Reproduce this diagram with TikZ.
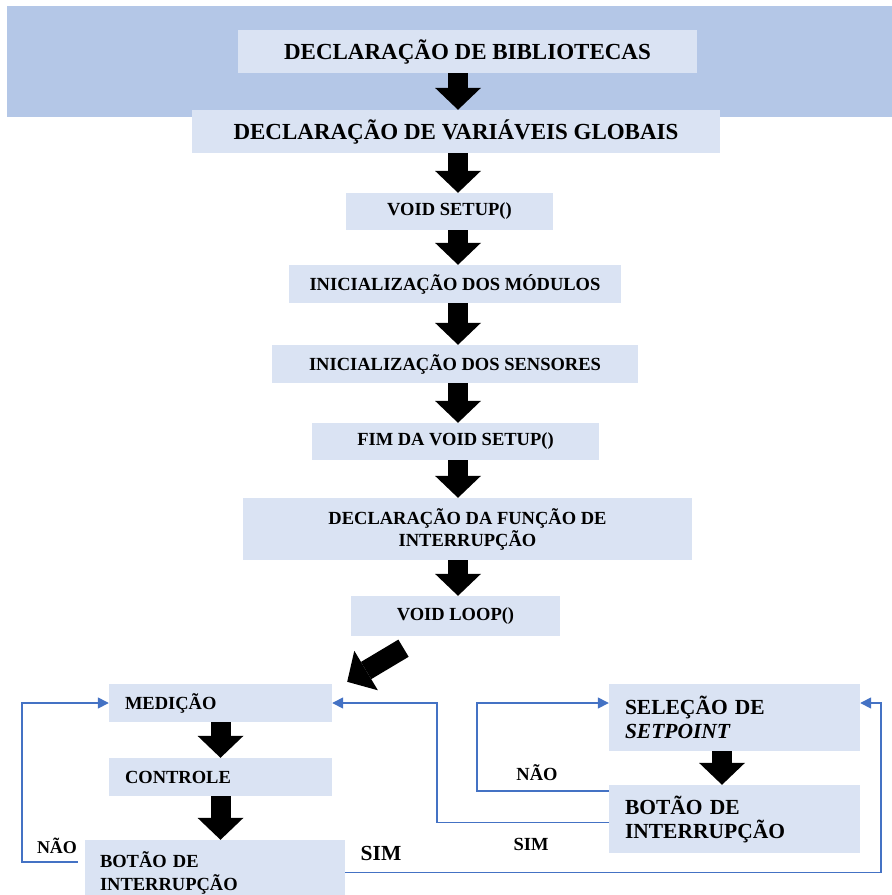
\documentclass[tikz,border=0pt]{standalone}
\usepackage{fontspec}
\setmainfont{Liberation Serif}
\usetikzlibrary{arrows.meta}
\definecolor{bandblue}{HTML}{B4C7E7}
\definecolor{boxblue}{HTML}{DAE3F3}
\definecolor{lineblue}{HTML}{4472C4}

\begin{document}
\begin{tikzpicture}[x=1pt,y=-1pt,
  stage/.style={fill=boxblue,inner sep=0pt,align=center,font=\bfseries\fontsize{18.5}{22}\selectfont},
  head/.style={stage,font=\bfseries\fontsize{23}{27}\selectfont},
  block/.style={fill=boxblue,inner xsep=16pt,inner ysep=0pt,align=left,font=\bfseries\fontsize{18.5}{23}\selectfont},
  bigblock/.style={block,font=\bfseries\fontsize{21.5}{24}\selectfont},
  bigarrow/.style={line width=20pt,-{Triangle[width=46pt,length=22pt,line width=0pt]}},
  flow/.style={draw=lineblue,line width=1.5pt,-{Triangle[width=11pt,length=11pt]}},
  lbl/.style={inner sep=0pt,font=\bfseries\fontsize{18}{20}\selectfont}]
\useasboundingbox (0,0) rectangle (892,895);
\fill[bandblue] (7,6) rectangle (892,117);

% setup part
\node[head,minimum width=459pt,minimum height=43pt] (libs) at (467.5,51.5) {DECLARAÇÃO DE BIBLIOTECAS};
\node[head,minimum width=528pt,minimum height=43pt] (globs) at (456,131.5) {DECLARAÇÃO DE VARIÁVEIS GLOBAIS};
\node[stage,minimum width=207pt,minimum height=37pt] (setup) at (449.5,211.5) {VOID SETUP()};
\node[stage,minimum width=332pt,minimum height=38pt] (mods) at (455,284) {INICIALIZAÇÃO DOS MÓDULOS};
\node[stage,minimum width=366pt,minimum height=38pt] (sens) at (455,364) {INICIALIZAÇÃO DOS SENSORES};
\node[stage,minimum width=287pt,minimum height=37pt] (endsetup) at (455.5,441.5) {FIM DA VOID SETUP()};
\node[stage,minimum width=449pt,minimum height=62pt] (isr) at (467.5,529) {DECLARAÇÃO DA FUNÇÃO DE\\INTERRUPÇÃO};
\node[stage,minimum width=209pt,minimum height=40pt] (loop) at (455.5,616) {VOID LOOP()};

% loop part
\node[block,text width=191pt,minimum height=38pt] (med) at (220.5,703) {MEDIÇÃO};
\node[block,text width=191pt,minimum height=38pt] (ctrl) at (220.5,777) {CONTROLE};
\node[block,inner xsep=15pt,text width=230pt,minimum height=65pt] (btnl) at (215,872.5) {BOTÃO DE\\INTERRUPÇÃO};
\node[bigblock,text width=219pt,minimum height=67pt] (sel) at (734.5,717.5) {SELEÇÃO DE\\\textit{SETPOINT}};
\node[bigblock,text width=219pt,minimum height=68pt] (btnr) at (734.5,819) {BOTÃO DE\\INTERRUPÇÃO};

\coordinate (spine) at (458,0);
\coordinate (rspine) at (722,0);
\path[bigarrow]
(libs.south -| spine) edge (globs.north -| spine)
(globs.south -| spine) edge (setup.north -| spine)
(setup.south -| spine) edge (mods.north -| spine)
(mods.south -| spine) edge (sens.north -| spine)
(sens.south -| spine) edge (endsetup.north -| spine)
(endsetup.south -| spine) edge (isr.north -| spine)
(isr.south -| spine) edge (loop.north -| spine)
([shift={(-52,12)}]loop.south) edge ([shift={(15,-2)}]med.north east)
(med.south) edge (ctrl.north)
(ctrl.south) edge (btnl.north -| med)
(sel.south -| rspine) edge (btnr.north -| rspine)
;

% decisions
\draw[flow] ([shift={(-7,-10.5)}]btnl.west) -- ++(-56,0) |- (med.west);
\draw[flow] (btnl.east) -- ++(536,0) |- (sel.east |- med.east);
\draw[flow] ([shift={(0,3.5)}]btnr.west) -- ++(-172,0) |- (med.east);
\draw[flow] ([shift={(0,-28)}]btnr.west) -- ++(-132,0) |- (sel.west |- med.west);

\node[lbl] (naoL) at (57,846) {NÃO};
\node[lbl,font=\bfseries\fontsize{21.5}{24}\selectfont] (simL) at (381,853) {SIM};
\node[lbl,font=\bfseries\fontsize{18.5}{20}\selectfont] (naoR) at (537,773) {NÃO};
\node[lbl,font=\bfseries\fontsize{18.5}{20}\selectfont] (simR) at (531,844) {SIM};
\end{tikzpicture}
\end{document}
